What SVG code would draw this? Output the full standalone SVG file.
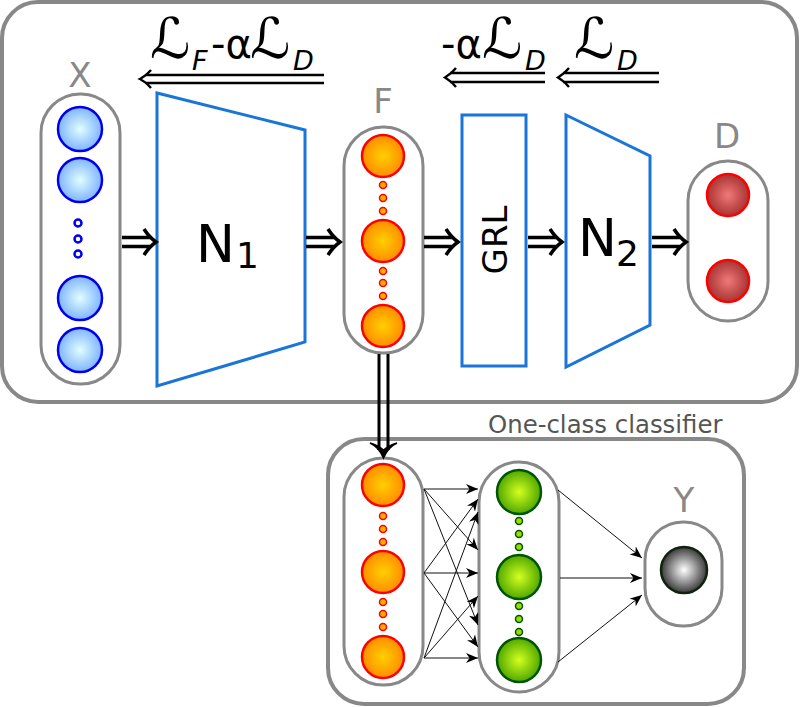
<svg xmlns="http://www.w3.org/2000/svg" xmlns:xlink="http://www.w3.org/1999/xlink" width="800" height="707" viewBox="0 0 800 707">
<style>
.frame{fill:#fff;stroke:#888;stroke-width:4}
.pill{fill:#fff;stroke:#888;stroke-width:3}
.net{fill:#fff;stroke:#1a75d8;stroke-width:3}
.lbl{font-family:"DejaVu Sans","Liberation Sans",sans-serif;fill:#888;font-size:34px;text-anchor:middle}
.big{font-family:"DejaVu Sans","Liberation Sans",sans-serif;fill:#000}
.loss{font-family:"DejaVu Sans","Liberation Sans",sans-serif;fill:#000;font-size:40px}
.scr{font-family:"DejaVu Sans","Liberation Sans",sans-serif;fill:#000;font-size:56px}
.sub{font-family:"DejaVu Sans","Liberation Sans",sans-serif;fill:#000;font-size:27px;font-style:italic}
.blue{fill:url(#gBlue);stroke:#0000ee;stroke-width:2.5}
.bdot{fill:#fff;stroke:#0000ee;stroke-width:2.5}
.org{fill:url(#gOrg);stroke:#ff0000;stroke-width:2.5}
.odot{fill:#ffb000;stroke:#ff0000;stroke-width:1.5}
.red{fill:url(#gRed);stroke:#ff0000;stroke-width:2.5}
.grn{fill:url(#gGrn);stroke:#005500;stroke-width:2.5}
.gdot{fill:#99dd00;stroke:#005500;stroke-width:1.5}
.gry{fill:url(#gGry);stroke:#112211;stroke-width:2.5}
.thick{stroke:#000;stroke-width:3.5;fill:none}
.thin{stroke:#000;stroke-width:2.4;fill:none}
.wire{stroke:#111;stroke-width:1;fill:none;marker-end:url(#ah)}
</style>
<defs>
<radialGradient id="gBlue"><stop offset="0" stop-color="#e0ffff"/><stop offset="1" stop-color="#80b4ff"/></radialGradient>
<radialGradient id="gOrg"><stop offset="0" stop-color="#ffd000"/><stop offset="1" stop-color="#ff8c00"/></radialGradient>
<radialGradient id="gRed"><stop offset="0" stop-color="#f07878"/><stop offset="1" stop-color="#a83434"/></radialGradient>
<radialGradient id="gGrn"><stop offset="0" stop-color="#d4ff20"/><stop offset="1" stop-color="#50a800"/></radialGradient>
<radialGradient id="gGry"><stop offset="0" stop-color="#ffffff"/><stop offset="1" stop-color="#3a3a3a"/></radialGradient>
<marker id="ah" viewBox="0 0 12 10" refX="12" refY="5" markerWidth="12" markerHeight="10" markerUnits="userSpaceOnUse" orient="auto"><path d="M0,0 L12,5 L0,10 L3.5,5 z" fill="#000"/></marker>
<g id="imp"><path class="thick" d="M-34,-4.5 H-5 M-34,4.5 H-5 M-12,-13 Q-7,-5 0,0 Q-7,5 -12,13"/></g>
</defs>

<g id="top-box"><rect class="frame" x="2" y="2" width="795" height="400" rx="36"/></g>
<g id="bottom-box"><rect class="frame" x="328" y="439" width="416" height="265" rx="36"/>
<text x="488" y="433" font-family="DejaVu Sans, Liberation Sans, sans-serif" font-size="24.4" fill="#555">One-class classifier</text></g>

<g id="node-X">
<text class="lbl" x="80" y="87">X</text>
<rect class="pill" x="41" y="94" width="79" height="290" rx="39"/>
<circle class="blue" cx="80" cy="129" r="22"/>
<circle class="blue" cx="80" cy="180" r="22"/>
<circle class="bdot" cx="78" cy="223" r="3.5"/>
<circle class="bdot" cx="78" cy="239" r="3.5"/>
<circle class="bdot" cx="78" cy="254" r="3.5"/>
<circle class="blue" cx="80" cy="298" r="22"/>
<circle class="blue" cx="80" cy="350" r="22"/>
</g>

<g id="node-N1">
<polygon class="net" points="157,93 305,130 305,342 157,386"/>
<text class="big" x="196" y="262" font-size="52">N</text>
<text class="big" x="236" y="268" font-size="36">1</text>
</g>

<g id="node-F">
<text class="lbl" x="383" y="113">F</text>
<rect class="pill" x="344" y="127" width="79" height="226" rx="39"/>
<circle class="org" cx="383" cy="156" r="21"/>
<circle class="odot" cx="383" cy="185" r="3.5"/>
<circle class="odot" cx="383" cy="198" r="3.5"/>
<circle class="odot" cx="383" cy="211" r="3.5"/>
<circle class="org" cx="383" cy="241" r="21"/>
<circle class="odot" cx="383" cy="271" r="3.5"/>
<circle class="odot" cx="383" cy="283" r="3.5"/>
<circle class="odot" cx="383" cy="296" r="3.5"/>
<circle class="org" cx="383" cy="326" r="21"/>
</g>

<g id="node-GRL">
<rect class="net" x="462" y="115" width="64" height="251"/>
<text class="big" font-size="34" text-anchor="middle" transform="translate(507,240) rotate(-90)">GRL</text>
</g>

<g id="node-N2">
<polygon class="net" points="566,115 650,156 650,325 566,367"/>
<text class="big" x="578" y="256" font-size="52">N</text>
<text class="big" x="616" y="266" font-size="36">2</text>
</g>

<g id="node-D">
<text class="lbl" x="727" y="148">D</text>
<rect class="pill" x="688" y="161" width="80" height="160" rx="40"/>
<circle class="red" cx="728" cy="195" r="21"/>
<circle class="red" cx="728" cy="281" r="21"/>
</g>

<g id="node-F2">
<rect class="pill" x="344" y="458" width="79" height="227" rx="39"/>
<circle class="org" cx="383" cy="485" r="21"/>
<circle class="odot" cx="383" cy="516" r="3.5"/>
<circle class="odot" cx="383" cy="529" r="3.5"/>
<circle class="odot" cx="383" cy="542" r="3.5"/>
<circle class="org" cx="383" cy="572" r="21"/>
<circle class="odot" cx="383" cy="602" r="3.5"/>
<circle class="odot" cx="383" cy="614" r="3.5"/>
<circle class="odot" cx="383" cy="627" r="3.5"/>
<circle class="org" cx="383" cy="657" r="21"/>
</g>

<g id="node-H">
<rect class="pill" x="479" y="462" width="80" height="230" rx="40"/>
<circle class="grn" cx="519" cy="492" r="22"/>
<circle class="gdot" cx="519" cy="521" r="3.5"/>
<circle class="gdot" cx="519" cy="534" r="3.5"/>
<circle class="gdot" cx="519" cy="547" r="3.5"/>
<circle class="grn" cx="519" cy="577" r="22"/>
<circle class="gdot" cx="519" cy="606" r="3.5"/>
<circle class="gdot" cx="519" cy="619" r="3.5"/>
<circle class="gdot" cx="519" cy="632" r="3.5"/>
<circle class="grn" cx="519" cy="660" r="22"/>
</g>

<g id="node-Y">
<text class="lbl" x="684" y="512">Y</text>
<rect class="pill" x="645" y="522" width="77" height="104" rx="38"/>
<circle class="gry" cx="684" cy="570" r="23"/>
</g>

<g id="loss-labels">
<text class="scr" x="150" y="58">ℒ</text>
<text class="sub" x="192" y="70">F</text>
<text class="loss" x="211" y="58">-α</text>
<text class="scr" x="250" y="58">ℒ</text>
<text class="sub" x="293" y="70">D</text>
<text class="loss" x="441" y="58">-α</text>
<text class="scr" x="482" y="58">ℒ</text>
<text class="sub" x="525" y="70">D</text>
<text class="scr" x="574" y="58">ℒ</text>
<text class="sub" x="617" y="70">D</text>
</g>

<g id="connectors">
<use xlink:href="#imp" x="156" y="242"/>
<use xlink:href="#imp" x="340" y="242"/>
<use xlink:href="#imp" x="458" y="242"/>
<use xlink:href="#imp" x="562" y="242"/>
<use xlink:href="#imp" x="686" y="242"/>
<path class="thin" d="M145,75 H324 M145,83 H324 M151,70 Q146,76 140,79 Q146,82 151,88"/>
<path class="thin" d="M450,73 H545 M450,82 H545 M456,68 Q451,74 445,77.5 Q451,81 456,87"/>
<path class="thin" d="M563,73 H659 M563,82 H659 M569,68 Q564,74 558,77.5 Q564,81 569,87"/>
<path stroke="#000" stroke-width="3" fill="none" d="M379,354 V450 M388,354 V450"/>
<path fill="#000" d="M370,443 Q379,447 383.5,458 Q388,447 397,443 Q388,446 383.5,450 Q379,446 370,443 z" stroke="#000" stroke-width="1.5"/>
<path class="wire" d="M424,489 L478,489"/>
<path class="wire" d="M424,573 L478,499"/>
<path class="wire" d="M424,658 L478,512"/>
<path class="wire" d="M424,489 L478,550"/>
<path class="wire" d="M424,573 L478,573"/>
<path class="wire" d="M424,658 L478,596"/>
<path class="wire" d="M424,489 L478,625"/>
<path class="wire" d="M424,573 L478,647"/>
<path class="wire" d="M424,658 L478,658"/>
<path class="wire" d="M558,490 L642,558"/>
<path class="wire" d="M560,578 L642,578"/>
<path class="wire" d="M558,662 L642,595"/>
</g>
</svg>
